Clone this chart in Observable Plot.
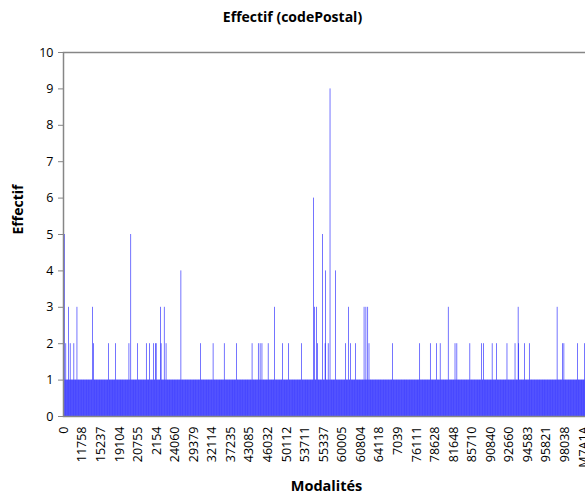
<!DOCTYPE html>
<html><head><meta charset="utf-8">
<script src="https://cdn.jsdelivr.net/npm/d3@7"></script>
<script src="https://cdn.jsdelivr.net/npm/@observablehq/plot@0.6"></script>
<style>
html,body{margin:0;padding:0;background:#fff;overflow:hidden;width:585px;height:497px}
#title{font-family:"Open Sans",sans-serif;font-weight:bold;font-size:14px;text-align:center;height:36px;line-height:34px;color:#000;width:585px}
</style></head><body>
<div id="title">Effectif (codePostal)</div>
<div id="chart"></div>
<script>
// number of modalities (postal codes), sorted as text
const nCategories = 850;
// one tick label every 30 modalities
const tickStep = 30;
const tickLabels = ["0","11758","15237","19104","20755","2154","24060","29379","32114","37235",
  "43085","46032","50112","53711","55337","60005","60804","64118","7039","76111",
  "78628","81648","85710","90840","92660","94583","95821","98038","M7A1A"];
// most modalities have a count of 1; the ones above 1:
const peakIndex = [2,4,8,11,17,22,47,49,73,84,106,109,120,134,139,146,149,150,157,158,163,166,190,222,242,260,280,
  305,315,318,321,331,341,354,364,385,404,406,409,411,419,423,424,428,431,440,456,461,464,472,486,489,492,494,532,576,
  593,603,609,622,633,636,657,676,679,693,700,717,730,735,736,745,753,798,807,809,831,842];
const peakValue = [5,2,3,2,2,3,3,2,2,2,2,5,2,2,2,2,2,2,3,2,3,2,4,2,2,2,2,
  2,2,2,2,2,3,2,2,2,6,3,3,2,5,2,4,2,9,4,2,3,2,2,3,3,3,2,2,2,
  2,2,2,3,2,2,2,2,2,2,2,2,2,3,2,2,2,3,2,2,2,2];
const baseValue = 1;

const counts = d3.range(nCategories).map(() => baseValue);
peakIndex.forEach((k, j) => { counts[k] = peakValue[j]; });
const data = counts.map((v, i) => ({i, v}));
const tickIdx = tickLabels.map((_, j) => j * tickStep);

const gray = "#868686";
const chart = Plot.plot({
  width: 585, height: 461,
  marginLeft: 63, marginRight: -4, marginTop: 16, marginBottom: 81,
  style: {fontFamily: "Open Sans, sans-serif", fontSize: "11.5px", color: "#000", background: "#fff"},
  x: {type: "band", domain: d3.range(nCategories), padding: 0.12, round: false},
  y: {domain: [0, 10]},
  marks: [
    Plot.barY(data, {x: "i", y: "v", fill: "#0000ff"}),
    Plot.frame({stroke: gray, strokeWidth: 1.5}),
    Plot.axisY({ticks: d3.range(0, 11), tickSize: 5, tickPadding: 5, stroke: gray, label: null, fontSize: 12.5}),
    Plot.axisX({ticks: tickIdx, tickSize: 0, tickPadding: 10, tickRotate: -90, label: null,
      tickFormat: (d) => tickLabels[d / tickStep], fontSize: 12.5}),
    Plot.text(["Effectif"], {frameAnchor: "left", dx: -45, rotate: -90, fontWeight: "bold", fontSize: 14}),
    Plot.text(["Modalités"], {frameAnchor: "bottom", dy: 74, fontWeight: "bold", fontSize: 14.5})
  ]
});
document.getElementById("chart").appendChild(chart);
</script>
</body></html>
